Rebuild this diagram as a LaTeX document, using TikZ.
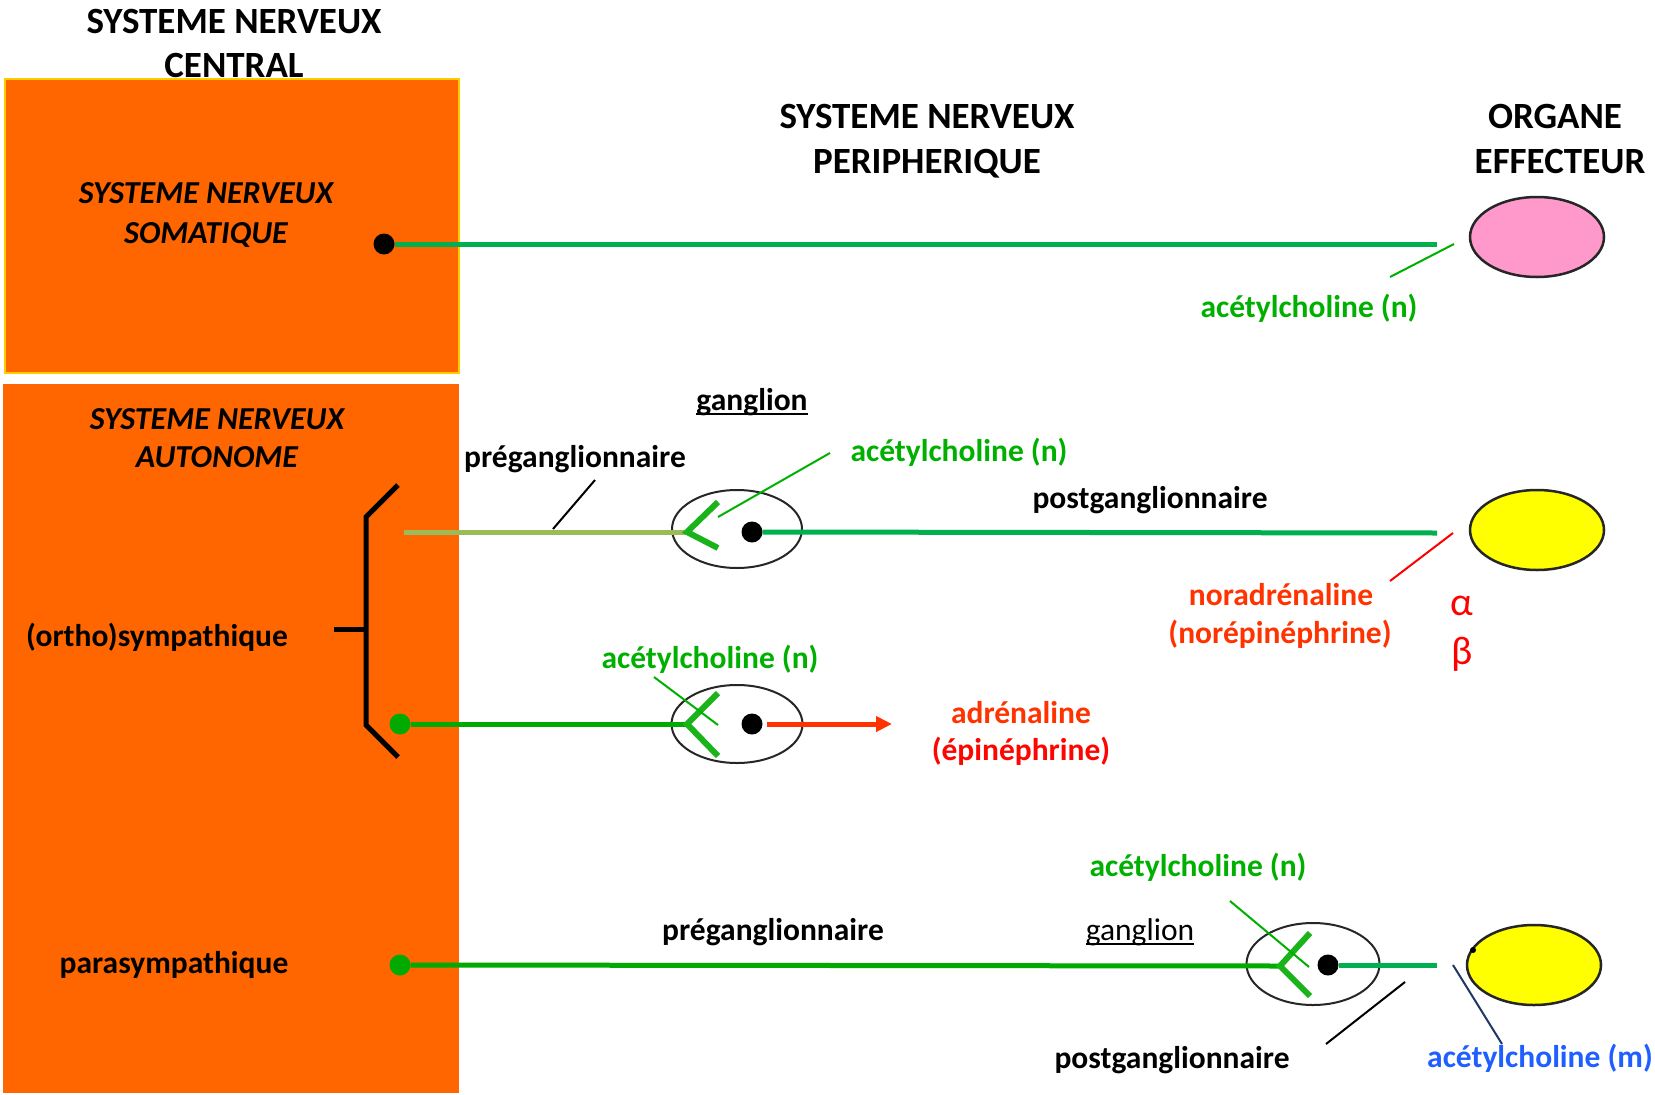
\documentclass[tikz,border=0pt]{standalone}
\usepackage{fontspec}
\setmainfont{Carlito}
\usetikzlibrary{shapes.geometric,arrows.meta}
\definecolor{orng}{HTML}{FF6600}
\definecolor{gsoma}{HTML}{00B050}
\definecolor{gpure}{HTML}{00AA00}
\definecolor{gfork}{HTML}{1AB41A}
\definecolor{gtext}{HTML}{00B000}
\definecolor{olive}{HTML}{9BBB59}
\definecolor{rtext}{HTML}{FF3300}
\definecolor{rpure}{HTML}{FF0000}
\definecolor{btext}{HTML}{1F5FFF}
\definecolor{bline}{HTML}{1F3864}
\definecolor{pinkorg}{HTML}{FF99CC}
\definecolor{yelorg}{HTML}{FFFF00}
\definecolor{rectedge}{HTML}{FFCC00}
\newcommand\myul[1]{\setbox0\hbox{#1}\rlap{\rule[-5pt]{\wd0}{2pt}}\box0}
\begin{document}
\begin{tikzpicture}[x=1pt,y=-1pt,
  txt/.style={font=\fontsize{31.5}{38}\selectfont\bfseries, inner sep=0, anchor=base},
  rtxt/.style={font=\fontsize{31.5}{38}\selectfont, inner sep=0, anchor=base},
  ttl/.style={font=\fontsize{37}{44}\selectfont\bfseries, inner sep=0, anchor=base},
  itl/.style={font=\fontsize{32}{40}\selectfont\bfseries\itshape, inner sep=0, anchor=base},
  greek/.style={font=\fontsize{40}{48}\selectfont, inner sep=0, anchor=base, text=rpure},
  gang/.style={ellipse, draw=black!85, line width=2pt, inner sep=0},
  organ/.style={ellipse, draw=black!85, line width=2.5pt, inner sep=0, minimum width=134pt, minimum height=80pt},
  bdot/.style={circle, fill=black, inner sep=0, minimum size=21pt},
  gdot/.style={circle, fill=gpure, inner sep=0, minimum size=21pt},
  mainline/.style={line width=5pt},
  fork/.style={line width=6pt, gfork},
  thin/.style={line width=2pt},
  bracketline/.style={line width=5pt, black, line join=miter}]
\useasboundingbox (0,0) rectangle (1655,1095);
\fill[white] (0,0) rectangle (1655,1095);

% CNS boxes
\node[draw=rectedge, line width=2pt, fill=orng, inner sep=0, minimum width=454pt, minimum height=294pt] (snsom) at (232,225.5) {};
\node[fill=orng, inner sep=0, minimum width=456pt, minimum height=709pt] (snaut) at (231,738.5) {};

% titles
\node[ttl] (t1a) at (234,33) {SYSTEME NERVEUX};
\node[ttl] (t1b) at (234,77) {CENTRAL};
\node[ttl] (t2a) at (927,128) {SYSTEME NERVEUX};
\node[ttl] (t2b) at (927,173) {PERIPHERIQUE};
\node[ttl] (t3a) at (1555,128) {ORGANE};
\node[ttl] (t3b) at (1560,173) {EFFECTEUR};

\node[itl] (s1a) at (206,203) {SYSTEME NERVEUX};
\node[itl] (s1b) at (206,243) {SOMATIQUE};
\node[itl] (s2a) at (217,429) {SYSTEME NERVEUX};
\node[itl] (s2b) at (217,467) {AUTONOME};
\node[txt] (ortho) at (157,646) {(ortho)sympathique};
\node[txt] (para) at (174,973) {parasympathique};

% effector organs
\node[organ, fill=pinkorg] (o1) at (1537,237) {};
\node[organ, fill=yelorg] (o2) at (1537,530) {};
\node[organ, fill=yelorg] (o3) at (1534,965) {};
\fill[black] (1473,950) circle (3pt);

% ganglia
\node[gang, minimum width=130pt, minimum height=78pt] (g1) at (737,529) {};
\node[gang, minimum width=131pt, minimum height=78pt] (g2) at (737,724) {};
\node[gang, minimum width=133pt, minimum height=82pt] (g3) at (1313,964) {};

% neuron dots
\node[bdot] (d0) at (384,244) {};
\node[bdot] (d1) at (752,532) {};
\node[bdot] (d2) at (752,724) {};
\node[bdot] (d3) at (1328,965) {};
\node[gdot] (p2) at (400,724) {};
\node[gdot] (p3) at (400,965) {};

% coordinates
\coordinate (e0) at (1437,244);
\coordinate (s1) at (404,532);
\coordinate (a1) at (687,532);
\coordinate (a1u) at (718,502);
\coordinate (a1d) at (718,548);
\coordinate (e1) at (1437,533);
\coordinate (a2) at (687,724);
\coordinate (a2u) at (718,693);
\coordinate (a2d) at (718,756);
\coordinate (arr) at (892,724);
\coordinate (a3) at (1280,966);
\coordinate (a3u) at (1310,933);
\coordinate (a3d) at (1310,996);
\coordinate (e3) at (1437,965);

% bracket
\coordinate (bt) at (398,485);
\coordinate (bv1) at (366,517);
\coordinate (bv2) at (366,725);
\coordinate (bb) at (398,757);
\coordinate (bk1) at (334,629);
\coordinate (bk2) at (366,629);
\draw[bracketline] (bt) -- (bv1) -- (bv2) -- (bb);
\draw[bracketline] (bk1) -- (bk2);

% nerve fibres
\draw[mainline, gsoma] (d0) -- (e0);
\draw[mainline, olive] (s1) -- (a1);
\draw[fork] (a1u) -- (a1) -- (a1d);
\draw[mainline, gsoma] (d1) -- (e1);
\draw[mainline, gpure] (p2) -- (a2);
\draw[fork] (a2u) -- (a2) -- (a2d);
\draw[mainline, rtext, -{Triangle[length=16pt,width=15pt]}, shorten <=4pt] (d2) -- (arr);
\draw[mainline, gpure] (p3) -- (a3);
\draw[fork] (a3u) -- (a3) -- (a3d);
\draw[mainline, gsoma] (d3) -- (e3);

% label pointer lines
\coordinate (l1a) at (1454,244); \coordinate (l1b) at (1390,277);
\draw[thin, gtext] (l1a) -- (l1b);
\coordinate (l2a) at (595,480); \coordinate (l2b) at (553,529);
\draw[thin, black] (l2a) -- (l2b);
\coordinate (l3a) at (830,453); \coordinate (l3b) at (718,517);
\draw[thin, gtext] (l3a) -- (l3b);
\coordinate (l4a) at (1453,533); \coordinate (l4b) at (1390,581);
\draw[thin, rpure] (l4a) -- (l4b);
\coordinate (l5a) at (654,677); \coordinate (l5b) at (718,725);
\draw[thin, gtext] (l5a) -- (l5b);
\coordinate (l6a) at (1230,901); \coordinate (l6b) at (1309,967);
\draw[thin, gtext] (l6a) -- (l6b);
\coordinate (l7a) at (1405,982); \coordinate (l7b) at (1326,1044);
\draw[thin, black] (l7a) -- (l7b);
\coordinate (l8a) at (1453,965); \coordinate (l8b) at (1502,1044);
\draw[thin, bline] (l8a) -- (l8b);

% labels
\node[txt, text=gtext] (ach0) at (1309,317) {acétylcholine (n)};
\node[txt] (gl1) at (752,410) {\myul{ganglion}};
\node[txt] (pre1) at (575,467) {préganglionnaire};
\node[txt, text=gtext] (ach1) at (959,461) {acétylcholine (n)};
\node[txt] (post1) at (1150,508) {postganglionnaire};
\node[txt, text=rtext] (nor1) at (1281,605) {noradrénaline};
\node[txt, text=rtext] (nor2) at (1280,643) {(norépinéphrine)};
\node[greek] (alpha) at (1462,615) {α};
\node[greek] (beta) at (1462,664) {β};
\node[txt, text=gtext] (ach2) at (710,668) {acétylcholine (n)};
\node[txt, text=rtext] (adr1) at (1021,723) {adrénaline};
\node[txt, text=rpure!90!rtext] (adr2) at (1021,760) {(épinéphrine)};
\node[txt, text=gtext] (ach3) at (1198,876) {acétylcholine (n)};
\node[txt] (pre2) at (773,940) {préganglionnaire};
\node[rtxt] (gl2) at (1140,940) {\myul{ganglion}};
\node[txt] (post2) at (1172,1068) {postganglionnaire};
\node[txt, text=btext] (achm) at (1540,1067) {acétylcholine (m)};
\end{tikzpicture}
\end{document}
